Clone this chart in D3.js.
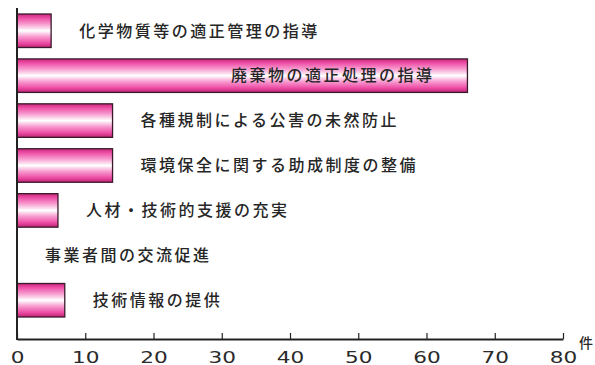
<!DOCTYPE html>
<html lang="ja">
<head>
<meta charset="utf-8">
<script src="https://cdn.jsdelivr.net/npm/d3@7"></script>
<style>
  html, body { margin: 0; padding: 0; background: #fff; }
  svg { display: block; }
</style>
</head>
<body>
<svg id="chart" width="595" height="365"></svg>
<script>
// 支援内容の項目と件数
const categories = [
  "化学物質等の適正管理の指導",
  "廃棄物の適正処理の指導",
  "各種規制による公害の未然防止",
  "環境保全に関する助成制度の整備",
  "人材・技術的支援の充実",
  "事業者間の交流促進",
  "技術情報の提供"
];
const counts = [5, 66, 14, 14, 6, 0, 7];
const tickValues = [0, 10, 20, 30, 40, 50, 60, 70, 80];
const unitLabel = "件";
// 棒の内側に項目名を置くもの
const insideLabels = ["廃棄物の適正処理の指導"];

const svg = d3.select("#chart");

const x = d3.scaleLinear().domain([0, 80]).range([17, 563]);
const y = d3.scaleBand()
  .domain(categories)
  .range([14, 317])
  .paddingInner(0.254)
  .paddingOuter(0);

// 棒の縦グラデーション
const defs = svg.append("defs");
const grad = defs.append("linearGradient")
  .attr("id", "barFill")
  .attr("x1", 0).attr("y1", 0).attr("x2", 0).attr("y2", 1);
[
  [0, "#c8287a"],
  [0.12, "#ee4fa6"],
  [0.3, "#f79acf"],
  [0.5, "#ffffff"],
  [0.68, "#f79acf"],
  [0.86, "#ee4fa6"],
  [1, "#c02274"]
].forEach(([o, c]) => grad.append("stop").attr("offset", o).attr("stop-color", c));

// 棒
svg.append("g")
  .selectAll("rect")
  .data(categories.map((c, i) => ({ c, v: counts[i] })).filter(d => d.v > 0))
  .join("rect")
  .attr("x", x(0))
  .attr("y", d => y(d.c))
  .attr("width", d => x(d.v) - x(0))
  .attr("height", y.bandwidth())
  .attr("fill", "url(#barFill)")
  .attr("stroke", "#3a1a2c")
  .attr("stroke-width", 1.3);

// 項目名
svg.append("g")
  .selectAll("text")
  .data(categories.map((c, i) => ({ c, v: counts[i] })))
  .join("text")
  .attr("x", d => insideLabels.includes(d.c) ? x(d.v) - 33 : x(d.v) + 28)
  .attr("y", d => y(d.c) + y.bandwidth() / 2)
  .attr("dy", "0.36em")
  .attr("text-anchor", d => insideLabels.includes(d.c) ? "end" : "start")
  .style("font-family", "'Noto Sans CJK JP', sans-serif")
  .style("font-size", "16px")
  .style("font-weight", "500")
  .style("letter-spacing", "2.5px")
  .attr("fill", "#262626")
  .text(d => d.c);

// 横軸
const xAxis = d3.axisBottom(x)
  .tickValues(tickValues)
  .tickSize(-6)
  .tickSizeOuter(0);

const gx = svg.append("g")
  .attr("transform", "translate(0,339)")
  .call(xAxis);
gx.select(".domain").attr("stroke", "#222").attr("stroke-width", 2);
gx.selectAll(".tick line").attr("stroke", "#222").attr("stroke-width", 1.2);
// 数字は横長の字形に広げる
gx.selectAll(".tick text")
  .attr("fill", "#2a2a2a")
  .style("font-family", "'DejaVu Sans', sans-serif")
  .style("font-size", "16px")
  .attr("x", 0)
  .attr("y", 24)
  .attr("dy", null)
  .attr("transform", "scale(1.35,1)");

// 縦軸
svg.append("line")
  .attr("x1", x(0)).attr("x2", x(0))
  .attr("y1", 8).attr("y2", 340)
  .attr("stroke", "#222")
  .attr("stroke-width", 2);

// 単位
svg.append("text")
  .attr("x", 579)
  .attr("y", 348)
  .style("font-family", "'Noto Sans CJK JP', sans-serif")
  .style("font-size", "14px")
  .style("font-weight", "500")
  .attr("fill", "#2a2a2a")
  .text(unitLabel);
</script>
</body>
</html>
